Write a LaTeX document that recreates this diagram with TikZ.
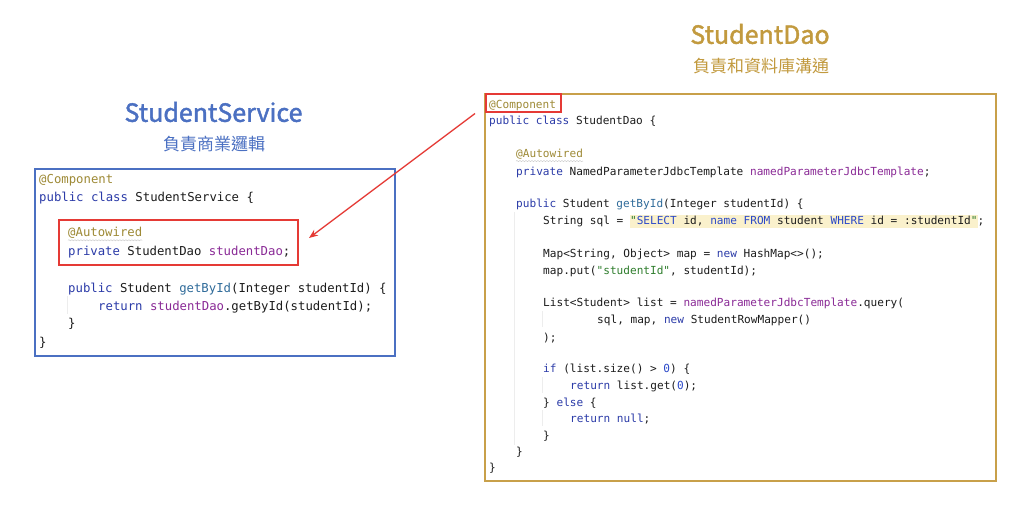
\documentclass[tikz,border=0pt]{standalone}
\usepackage{fontspec}
\setmonofont{DejaVu Sans Mono}
\newfontfamily\cjk{Noto Sans CJK TC}
\newfontfamily\cjkmed{Noto Sans CJK TC}[FakeBold=1.6]
\usetikzlibrary{calc,decorations.pathmorphing,arrows.meta}
\definecolor{svcblue}{HTML}{4B70C2}
\definecolor{daogold}{HTML}{C29A3E}
\definecolor{boxgold}{HTML}{C8A04A}
\definecolor{redbox}{HTML}{E53A35}
\definecolor{kwc}{HTML}{2B3BA8}
\definecolor{annc}{HTML}{9E8A36}
\definecolor{fldc}{HTML}{8A2A96}
\definecolor{mthc}{HTML}{2F6B9A}
\definecolor{strc}{HTML}{2E7D2C}
\definecolor{sqlc}{HTML}{2A48C8}
\definecolor{codeblack}{HTML}{1C1C1C}
\definecolor{hly}{HTML}{FAF1CC}
\newcommand\kwd[1]{\textcolor{kwc}{#1}}
\newcommand\ann[1]{\textcolor{annc}{#1}}
\newcommand\fld[1]{\textcolor{fldc}{#1}}
\newcommand\mth[1]{\textcolor{mthc}{#1}}
\newcommand\strg[1]{\textcolor{strc}{#1}}
\newcommand\sqlk[1]{\textcolor{sqlc}{#1}}
\newcommand\numc[1]{\textcolor{sqlc}{#1}}
\newcommand\hlq[1]{{\setlength{\fboxsep}{0pt}\colorbox{hly}{\strut#1}}}
\begin{document}
\begin{tikzpicture}[x=1pt,y=-1pt,
  codeL/.style={anchor=mid west,inner sep=0pt,yshift=-2pt,text=codeblack,font=\ttfamily\fontsize{12.3}{14}\selectfont},
  codeR/.style={anchor=mid west,inner sep=0pt,yshift=-2pt,text=codeblack,font=\ttfamily\fontsize{11.1}{13}\selectfont},
  titlefont/.style={inner sep=0pt,font=\cjkmed\fontsize{25}{30}\selectfont},
  subfont/.style={inner sep=0pt,font=\cjk\fontsize{17}{20}\selectfont},
  frame/.style={anchor=north west,inner sep=0pt,line width=1.6pt},
  redframe/.style={anchor=north west,inner sep=0pt,draw=redbox,line width=2pt},
  squiggle/.style={gray!45,line width=0.4pt,decorate,decoration={snake,amplitude=0.6pt,segment length=3pt}},
  guide/.style={gray!14,line width=0.6pt},
  redarrow/.style={draw=redbox,line width=1.3pt,-{Stealth[length=9pt,width=7pt]}}]
\useasboundingbox (0,0) rectangle (1024,508);
\fill[white] (0,0) rectangle (1024,508);

% titles
\node[titlefont,text=svcblue] (svcT) at (213.5,112) {StudentService};
\node[subfont,text=svcblue] (svcS) at (214,144) {負責商業邏輯};
\node[titlefont,text=daogold] (daoT) at (760,34) {StudentDao};
\node[subfont,text=daogold] (daoS) at (761,66) {負責和資料庫溝通};

% frames
\node[frame,draw=svcblue,minimum width=360pt,minimum height=187pt] (svc) at (34,168) {};
\node[frame,draw=boxgold,minimum width=511pt,minimum height=387pt] (dao) at (484,93) {};

% left code
\node[codeL] (l1) at (39,179) {\ann{@Component}};
\node[codeL] (l2) at (39,197) {\kwd{public class} StudentService \{};
\node[codeL] (l3) at (68,232) {\ann{@Autowired}};
\node[codeL] (l4) at (68,251) {\kwd{private} StudentDao \fld{studentDao};};
\node[codeL] (l5) at (68,288) {\kwd{public} Student \mth{getById}(Integer studentId) \{};
\node[codeL] (l6) at (98,306) {\kwd{return} \fld{studentDao}.getById(studentId);};
\node[codeL] (l7) at (68,323) {\}};
\node[codeL] (l8) at (39,342) {\}};
\draw[squiggle] ($(l3.south west)+(0,2)$) -- ($(l3.south east)+(0,2)$);
\draw[guide] (67,296) -- (67,314);

% right code
\node[codeR] (r1) at (489,104) {\ann{@Component}};
\node[codeR] (r2) at (489,120) {\kwd{public class} StudentDao \{};
\node[codeR] (r3) at (516,153) {\ann{@Autowired}};
\node[codeR] (r4) at (516,171) {\kwd{private} NamedParameterJdbcTemplate \fld{namedParameterJdbcTemplate};};
\node[codeR] (r5) at (516,203) {\kwd{public} Student \mth{getById}(Integer studentId) \{};
\node[codeR] (r6) at (543,220) {String sql = \hlq{\strg{"}\sqlk{SELECT} id, \sqlk{name} \sqlk{FROM} student \sqlk{WHERE} id = :studentId\strg{"}};};
\node[codeR] (r7) at (543,253) {Map<String, Object> map = \kwd{new} HashMap<>();};
\node[codeR] (r8) at (543,270) {map.put(\strg{"studentId"}, studentId);};
\node[codeR] (r9) at (543,302) {List<Student> list = \fld{namedParameterJdbcTemplate}.query(};
\node[codeR] (r10) at (597,319) {sql, map, \kwd{new} StudentRowMapper()};
\node[codeR] (r11) at (543,337) {);};
\node[codeR] (r12) at (543,368) {\kwd{if} (list.size() > \numc{0}) \{};
\node[codeR] (r13) at (570,385) {\kwd{return} list.get(\numc{0});};
\node[codeR] (r14) at (543,402) {\} \kwd{else} \{};
\node[codeR] (r15) at (570,418) {\kwd{return null};};
\node[codeR] (r16) at (543,435) {\}};
\node[codeR] (r17) at (516,451) {\}};
\node[codeR] (r18) at (489,467) {\}};
\draw[squiggle] ($(r3.south west)+(0,2)$) -- ($(r3.south east)+(0,2)$);
\draw[guide] (514,212) -- (514,445);
\draw[guide] (542,311) -- (542,327);
\draw[guide] (542,377) -- (542,393);
\draw[guide] (542,410) -- (542,426);

% red highlight boxes
\node[redframe,minimum width=239pt,minimum height=45pt] (autow) at (57.5,219) {};
\node[redframe,minimum width=75pt,minimum height=18pt] (rcomp) at (485,93.5) {};

% arrow
\coordinate (arrS) at ($(rcomp.south west)+(-10,0)$);
\coordinate (arrE) at ($(autow.east)+(10.5,-4.5)$);
\draw[redarrow] (arrS) -- (arrE);
\end{tikzpicture}
\end{document}
